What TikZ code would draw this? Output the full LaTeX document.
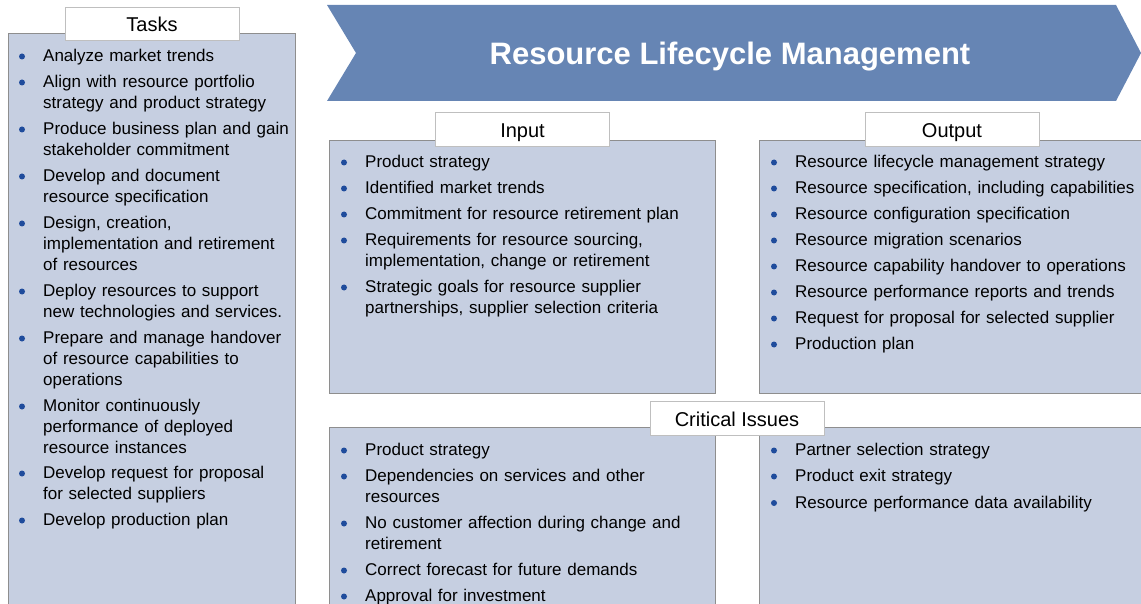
\documentclass[tikz,border=0pt]{standalone}
\usepackage{fontspec}
\setmainfont{Liberation Sans}
\definecolor{boxfill}{HTML}{C6CFE1}
\definecolor{boxline}{HTML}{8E8E8E}
\definecolor{tagline}{HTML}{BFBFBF}
\definecolor{banner}{HTML}{6685B4}
\definecolor{bulletblue}{HTML}{1F4C9C}
\newcommand\bitem[4]{%
  \node[dot] (#1b) at (#2-21, #3-5) {};
  \node[itm] (#1) at (#2, #3-14) {\rule{0pt}{14pt}#4};
}
\tikzset{
  panel/.style={fill=boxfill, draw=boxline, line width=1pt},
  tag/.style={fill=white, draw=tagline, line width=1pt, minimum width=174pt, minimum height=33.5pt, inner sep=0pt,
    text height=15.4pt, text depth=0pt, font=\fontsize{20}{24}\selectfont},
  itm/.style={anchor=north west, inner sep=0pt, text width=380pt, align=left, font=\fontsize{17}{21}\selectfont},
  dot/.style={circle, fill=bulletblue, inner sep=0pt, minimum size=6pt},
  bannerstyle/.style={fill=banner, draw=none},
}
\begin{document}
\begin{tikzpicture}[x=1pt,y=-1pt]
\useasboundingbox (0,0) rectangle (1141,604);
\clip (0,0) rectangle (1141,604);
% panels
\draw[panel] (8,34) rectangle (295,615);
\draw[panel] (329,140.5) rectangle (715,393);
\draw[panel] (759,140.5) rectangle (1150,393);
\draw[panel] (329,427.5) rectangle (715,615);
\draw[panel] (759,427.5) rectangle (1150,615);
% tags
\node[tag] (tasks) at (152,24) {Tasks};
\node[tag] (input) at (522.5,129.5) {Input};
\node[tag] (output) at (952,129.5) {Output};
\node[tag] (crit) at (737,418.5) {Critical Issues};
% banner
\fill[bannerstyle] (327,5) -- (1116,5) -- (1141,53) -- (1116,101) -- (327,101) -- (356,53) -- cycle;
\node[anchor=base, text=white, font=\bfseries\fontsize{31}{36}\selectfont, inner sep=0pt] (title) at (730,64.5) {Resource Lifecycle Management};
% tasks
\bitem{t1}{43}{61.5}{Analyze market trends}
\bitem{t2}{43}{87.5}{Align with resource portfolio\\strategy and product strategy}
\bitem{t3}{43}{134.5}{Produce business plan and gain\\stakeholder commitment}
\bitem{t4}{43}{181.5}{Develop and document\\resource specification}
\bitem{t5}{43}{228.5}{Design, creation,\\implementation and retirement\\of resources}
\bitem{t6}{43}{296.5}{Deploy resources to support\\new technologies and services.}
\bitem{t7}{43}{343.5}{Prepare and manage handover\\of resource capabilities to\\operations}
\bitem{t8}{43}{411.5}{Monitor continuously\\performance of deployed\\resource instances}
\bitem{t9}{43}{478.5}{Develop request for proposal\\for selected suppliers}
\bitem{t10}{43}{525.5}{Develop production plan}
% input
\bitem{i1}{365}{167.5}{Product strategy}
\bitem{i2}{365}{193.5}{Identified market trends}
\bitem{i3}{365}{219.5}{Commitment for resource retirement plan}
\bitem{i4}{365}{245.5}{Requirements for resource sourcing,\\implementation, change or retirement}
\bitem{i5}{365}{292.5}{Strategic goals for resource supplier\\partnerships, supplier selection criteria}
% output
\bitem{o1}{795}{167.5}{Resource lifecycle management strategy}
\bitem{o2}{795}{193.5}{Resource specification, including capabilities}
\bitem{o3}{795}{219.5}{Resource configuration specification}
\bitem{o4}{795}{245.5}{Resource migration scenarios}
\bitem{o5}{795}{271.5}{Resource capability handover to operations}
\bitem{o6}{795}{297.5}{Resource performance reports and trends}
\bitem{o7}{795}{323.5}{Request for proposal for selected supplier}
\bitem{o8}{795}{349.5}{Production plan}
% critical issues left
\bitem{c1}{365}{455.5}{Product strategy}
\bitem{c2}{365}{481.5}{Dependencies on services and other\\resources}
\bitem{c3}{365}{528.5}{No customer affection during change and\\retirement}
\bitem{c4}{365}{575.5}{Correct forecast for future demands}
\bitem{c5}{365}{601.5}{Approval for investment}
% critical issues right
\bitem{d1}{795}{455.5}{Partner selection strategy}
\bitem{d2}{795}{481.5}{Product exit strategy}
\bitem{d3}{795}{508}{Resource performance data availability}
\end{tikzpicture}
\end{document}
